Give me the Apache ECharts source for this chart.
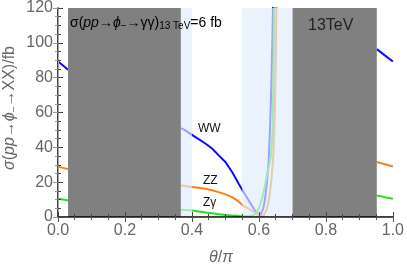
<!DOCTYPE html>
<html><head><meta charset="utf-8">
<script src="https://cdn.jsdelivr.net/npm/echarts@6/dist/echarts.min.js"></script>
<style>html,body{margin:0;padding:0;background:#fff}#c{width:407px;height:267px}</style>
</head><body><div id="c"></div>
<script>
// ---- data ----
const xTicks = [0, 0.2, 0.4, 0.6, 0.8, 1.0];
const yTicks = [0, 20, 40, 60, 80, 100, 120];

const thetaLeft = [0, 0.015, 0.03];
const wwLeft = [89.3, 87.0, 84.6];
const zzLeft = [29.0, 28.2, 27.5];
const zgLeft = [10.5, 10.0, 9.5];

const thetaRight = [0.952, 0.976, 1.0];
const wwRight = [96.4, 92.8, 89.3];
const zzRight = [31.6, 30.3, 29.0];
const zgRight = [12.4, 11.4, 10.5];

const thetaWWMid = [0.367,0.38,0.40,0.42,0.44,0.46,0.48,0.50,0.52,0.54,0.55,0.56,0.57,0.58,0.59,0.597,0.603,0.608,0.613,0.618,0.624,0.629,0.633,0.637,0.640,0.643];
const wwMid = [51.1,49.7,47.2,44.7,42.2,39.3,35.4,31.6,25.8,19.0,15.7,12.5,9.3,6.2,3.2,1.4,0.4,1.5,5,10,20,32,50,75,100,130];

const thetaZZMid = [0.367,0.40,0.42,0.44,0.46,0.48,0.50,0.52,0.54,0.55,0.56,0.57,0.58,0.59,0.597,0.603,0.608,0.613,0.618,0.624,0.629,0.634,0.638,0.643,0.646,0.649,0.651,0.653];
const zzMid = [18.1,17.2,16.8,16.2,15.4,14.3,13.0,11.4,8.8,7.0,5.7,4.6,3.5,2.4,1.4,0.7,0.3,0.4,1.5,4.5,9,16,23,35,50,75,100,130];

const thetaZGMid = [0.367,0.40,0.42,0.44,0.46,0.48,0.50,0.52,0.54,0.55,0.56,0.57,0.58,0.587,0.593,0.60,0.61,0.618,0.625,0.632,0.637,0.641,0.643,0.645,0.646];
const zgMid = [4.2,3.8,3.2,2.6,2.1,1.6,1.2,0.9,0.6,0.5,0.5,0.5,0.8,1.5,2.8,5.0,11,18,25,31,37,50,75,110,130];

const grayBands = [[0.03, 0.367], [0.70, 0.952]];
const blueBands = [[0.367, 0.40], [0.55, 0.70]];

// ---- build ----
const zip = (xs, ys) => xs.map((x, i) => [x, ys[i]]);
const colors = {ww: '#0a0aff', zz: '#ff7f0e', zg: '#1fe01f'};
function lineSeries(xs, ys, color) {
  return {type: 'line', data: zip(xs, ys), showSymbol: false, symbol: 'none',
    lineStyle: {color: color, width: 2}, z: 2, silent: true, animation: false, clip: true};
}
const series = [
  lineSeries(thetaLeft, wwLeft, colors.ww), lineSeries(thetaLeft, zzLeft, colors.zz), lineSeries(thetaLeft, zgLeft, colors.zg),
  lineSeries(thetaRight, wwRight, colors.ww), lineSeries(thetaRight, zzRight, colors.zz), lineSeries(thetaRight, zgRight, colors.zg),
  lineSeries(thetaWWMid, wwMid, colors.ww), lineSeries(thetaZZMid, zzMid, colors.zz), lineSeries(thetaZGMid, zgMid, colors.zg),
  {type: 'line', data: [], z: 5, silent: true, animation: false,
    markArea: {silent: true, z: 6, data: grayBands.map(b => [{xAxis: b[0], itemStyle: {color: '#808080', opacity: 1}}, {xAxis: b[1]}])
      .concat(blueBands.map(b => [{xAxis: b[0], itemStyle: {color: 'rgba(222,236,252,0.68)', opacity: 1}}, {xAxis: b[1]}]))}}
];

const lab = {fontSize: 16, color: '#666', fontFamily: 'Liberation Sans'};
const option = {
  animation: false,
  grid: {left: 58, right: 14, top: 8, bottom: 50, containLabel: false},
  xAxis: [
    {type: 'value', min: xTicks[0], max: xTicks[xTicks.length - 1], interval: 0.2, position: 'bottom', z: 10,
     axisLine: {show: true, lineStyle: {color: '#000', width: 1.5}},
     axisTick: {show: true, inside: true, length: 5, lineStyle: {color: '#444', width: 1}},
     minorTick: {show: true, splitNumber: 4, length: 3, lineStyle: {color: '#444', width: 1}},
     splitLine: {show: false},
     axisLabel: Object.assign({margin: 6, formatter: v => v.toFixed(1)}, lab)},
    {type: 'value', min: xTicks[0], max: xTicks[xTicks.length - 1], interval: 0.2, position: 'top', z: 10,
     axisLine: {show: true, lineStyle: {color: '#555', width: 1}},
     axisTick: {show: true, inside: true, length: 5, lineStyle: {color: '#555', width: 1}},
     minorTick: {show: true, splitNumber: 4, length: 3, lineStyle: {color: '#555', width: 1}},
     splitLine: {show: false}, axisLabel: {show: false}}
  ],
  yAxis: [
    {type: 'value', min: yTicks[0], max: yTicks[yTicks.length - 1], interval: 20, position: 'left', z: 10,
     axisLine: {show: true, lineStyle: {color: '#000', width: 1.5}},
     axisTick: {show: true, inside: true, length: 5, lineStyle: {color: '#444', width: 1}},
     minorTick: {show: true, splitNumber: 4, length: 3, lineStyle: {color: '#444', width: 1}},
     splitLine: {show: false},
     axisLabel: Object.assign({margin: 5}, lab)},
    {type: 'value', min: yTicks[0], max: yTicks[yTicks.length - 1], interval: 20, position: 'right', z: 10,
     axisLine: {show: true, lineStyle: {color: '#aaa', width: 1}},
     axisTick: {show: true, inside: true, length: 5, lineStyle: {color: '#999', width: 1}},
     minorTick: {show: true, splitNumber: 4, length: 3, lineStyle: {color: '#999', width: 1}},
     splitLine: {show: false}, axisLabel: {show: false}}
  ],
  series: series,
  graphic: [
    {type: 'text', left: 70, top: 16, z: 100, style: {
      text: '{n|σ(}{i|pp}{n|→}{i|ϕ}{s|−}{n|→γγ)}{s|13 TeV}{n|=6 fb}',
      rich: {
        n: {fontSize: 14, fontFamily: 'Liberation Sans', fill: '#000', lineHeight: 17, verticalAlign: 'middle'},
        i: {fontSize: 14, fontFamily: 'Liberation Sans', fontStyle: 'italic', fill: '#000', lineHeight: 17, verticalAlign: 'middle'},
        s: {fontSize: 10, fontFamily: 'Liberation Sans', fill: '#000', verticalAlign: 'bottom', lineHeight: 10}
      }}},
    {type: 'text', left: 308, top: 18, z: 100, style: {text: '13TeV', fontSize: 16, fontFamily: 'Liberation Sans', fill: '#222'}},
    {type: 'text', left: 198, top: 123, z: 100, style: {text: 'WW', fontSize: 12, fontFamily: 'Liberation Sans', fill: '#111'}},
    {type: 'text', left: 203, top: 175, z: 100, style: {text: 'ZZ', fontSize: 12, fontFamily: 'Liberation Sans', fill: '#111'}},
    {type: 'text', left: 203, top: 197, z: 100, style: {text: 'Zγ', fontSize: 12, fontFamily: 'Liberation Sans', fill: '#111'}},
    {type: 'text', x: 221, y: 258, z: 100, style: {
      text: '{i|θ}{n|/}{i|π}', align: 'center', verticalAlign: 'middle',
      rich: {n: {fontSize: 16, fontFamily: 'Liberation Sans', fill: '#666'},
             i: {fontSize: 16, fontFamily: 'Liberation Sans', fontStyle: 'italic', fill: '#666'}}}},
    {type: 'text', x: 10, y: 108, rotation: Math.PI / 2, z: 100, style: {
      text: '{i|σ}{n|(}{i|pp}{n|→}{i|ϕ}{s|−}{n|→XX)/fb}', align: 'center', verticalAlign: 'middle',
      rich: {n: {fontSize: 16, fontFamily: 'Liberation Sans', fill: '#666', lineHeight: 18, verticalAlign: 'middle'},
             i: {fontSize: 16, fontFamily: 'Liberation Sans', fontStyle: 'italic', fill: '#666', lineHeight: 18, verticalAlign: 'middle'},
             s: {fontSize: 10, fontFamily: 'Liberation Sans', fill: '#666', lineHeight: 10, verticalAlign: 'bottom'}}}}
  ]
};
const chart = echarts.init(document.getElementById('c'), null, {renderer: 'canvas'});
chart.setOption(option);
</script></body></html>
